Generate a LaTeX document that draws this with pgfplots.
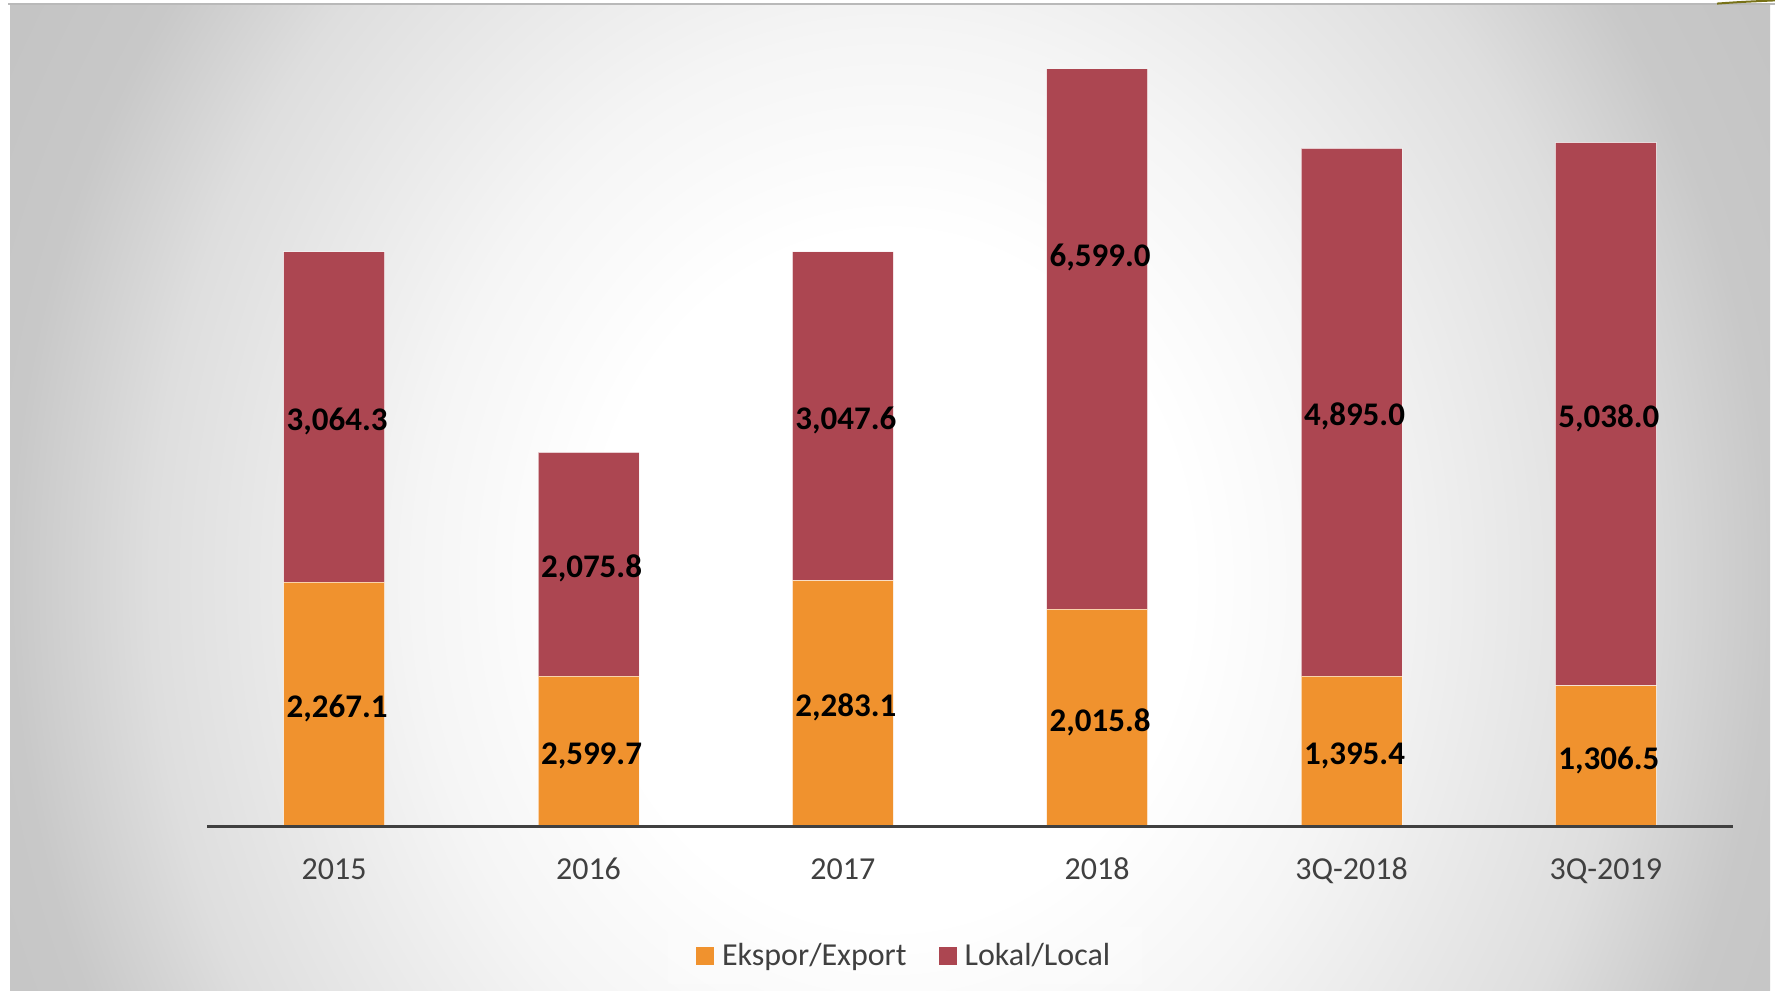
\documentclass[border=0pt]{standalone}
\usepackage{pgfplots}
\pgfplotsset{compat=1.18}
\usepackage{fontspec}
\setmainfont{Carlito}
\definecolor{expc}{RGB}{240,146,46}
\definecolor{locc}{RGB}{172,70,81}
\definecolor{txt}{RGB}{64,64,64}
\definecolor{topline}{RGB}{185,185,185}
\definecolor{g245}{RGB}{245,245,245}
\definecolor{g222}{RGB}{222,222,222}
\definecolor{g200}{RGB}{200,200,200}
\definecolor{g194}{RGB}{194,194,194}
\pgfdeclareradialshading{bgshade}{\pgfpoint{0bp}{0bp}}{color(0bp)=(white); color(8.5bp)=(white); color(13.5bp)=(g245); color(21bp)=(g222); color(25bp)=(g200); color(30bp)=(g194); color(50bp)=(g194)}
\begin{document}
\begin{tikzpicture}
\useasboundingbox (0pt,0pt) rectangle (887.5pt,495pt);
\fill[white] (0pt,0pt) rectangle (887.5pt,495pt);
\begin{scope}
\clip (4pt,0pt) rectangle (887.5pt,492.5pt);
\shade[shading=bgshade] (5pt,-301pt) rectangle (885pt,711pt);
\end{scope}
\draw[topline, line width=1pt] (4pt,493pt) -- (887.5pt,493pt);
\draw[olive!80!black, line width=1pt] (858.5pt,493.2pt) .. controls (870pt,494pt) .. (887.5pt,494.8pt);
\begin{axis}[
  at={(103.5pt,81.75pt)}, anchor=south west,
  scale only axis, width=763pt, height=378.25pt,
  xmin=-0.5, xmax=5.5, ymin=0, ymax=7018,
  ybar stacked, bar width=50.5pt,
  axis on top,
  axis y line=none, axis x line*=bottom,
  x axis line style={-, draw=txt, line width=1.75pt},
  xtick={0,1,2,3,4,5},
  xticklabels={2015,2016,2017,2018,3Q-2018,3Q-2019},
  major tick length=0pt,
  xticklabel style={font=\fontsize{16}{19}\selectfont, text=txt, anchor=base, yshift=-26.6pt},
  ytick=\empty,
  legend columns=2,
  legend style={at={(0.4575,-0.1706)}, anchor=center, draw=none, fill=white, fill opacity=0.2, text opacity=1,
    font=\fontsize{16}{19}\selectfont, text=txt, inner xsep=14pt, inner ysep=6pt,
    /tikz/every even column/.append style={column sep=14pt}},
  legend image code/.code={\path[draw=none, fill=none] (0pt,-4.5pt) rectangle (11pt,4.5pt); \fill[#1, fill opacity=1, draw=none] (0pt,-4.5pt) rectangle (9pt,4.5pt);},
]
\addplot[fill=expc, draw=white, draw opacity=0.6, line width=0.5pt] coordinates {
  (0,2267.1) (1,1395.4) (2,2283.1) (3,2015.8) (4,1395.4) (5,1306.5)};
\addplot[fill=locc, draw=white, draw opacity=0.6, line width=0.5pt] coordinates {
  (0,3064.3) (1,2075.8) (2,3047.6) (3,6599.0) (4,4895.0) (5,5038.0)};
\legend{Ekspor/Export, Lokal/Local}
\end{axis}
\begin{axis}[
  at={(103.5pt,81.75pt)}, anchor=south west,
  scale only axis, width=763pt, height=378.25pt,
  xmin=-0.5, xmax=5.5, ymin=0, ymax=7018,
  hide axis, clip=false,
]
\addplot[draw=none, mark=none, point meta=explicit,
  nodes near coords={\pgfmathprintnumber[fixed, fixed zerofill, precision=1, 1000 sep={,}, assume math mode=true]{\pgfplotspointmeta}},
  nodes near coords align={center},
  every node near coord/.append style={font=\bfseries\fontsize{16.5}{18}\selectfont, text=black, inner sep=0pt, text height=0.64em, text depth=0pt, xshift=1.5pt, yshift=-3.5pt}]
  coordinates {
  (0,1133.55)[2267.1] (1,697.7)[2599.7] (2,1141.55)[2283.1] (3,1007.9)[2015.8] (4,697.7)[1395.4] (5,653.25)[1306.5]
  (0,3799.25)[3064.3] (1,2433.3)[2075.8] (2,3806.9)[3047.6] (3,5315.3)[6599.0] (4,3842.9)[4895.0] (5,3825.5)[5038.0]};
\end{axis}
\end{tikzpicture}
\end{document}
